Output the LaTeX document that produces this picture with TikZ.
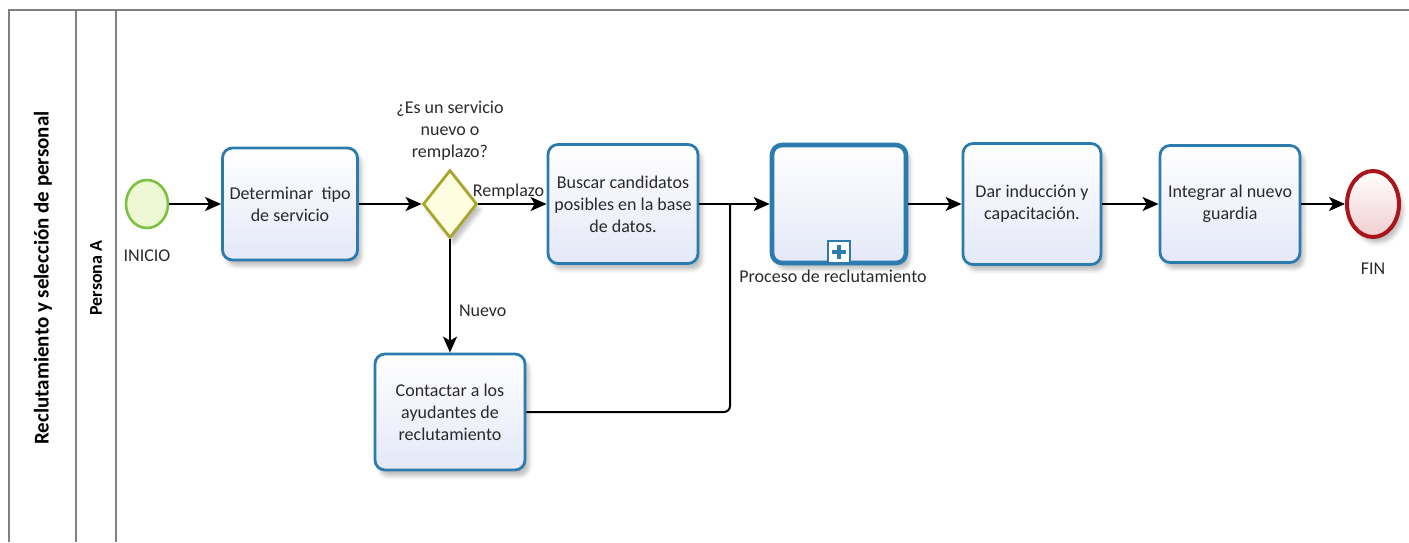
\documentclass[tikz,border=0pt]{standalone}
\usepackage{fontspec}
\setmainfont{Carlito}
\usepackage{tikz}
\usetikzlibrary{positioning,arrows.meta,shapes.geometric,shadows.blur}

\definecolor{taskline}{HTML}{2B7BAE}
\definecolor{taskfill}{HTML}{E4E8F8}
\definecolor{gwline}{HTML}{A9A62E}
\definecolor{gwfill}{HTML}{FFFDE0}
\definecolor{startline}{HTML}{7CC242}
\definecolor{startfill}{HTML}{EDF7D3}
\definecolor{endline}{HTML}{A8161C}
\definecolor{endfill}{HTML}{F2CDD0}
\definecolor{poolline}{HTML}{808080}
\definecolor{txt}{HTML}{2A2A2A}

\begin{document}
\begin{tikzpicture}[x=0.5pt, y=-0.5pt, font=\fontsize{9}{11}\selectfont, text=txt,
		task/.style={draw=taskline, line width=1.4pt, rounded corners=5pt, top color=white, bottom color=taskfill, minimum width=70pt, minimum height=59pt, align=center, inner sep=2pt, blur shadow={shadow xshift=2pt, shadow yshift=-3pt, shadow opacity=25}},
		gateway/.style={diamond, draw=gwline, fill=gwfill, line width=1.4pt, minimum width=27pt, minimum height=34pt, inner sep=0pt, blur shadow={shadow xshift=2pt, shadow yshift=-3pt, shadow opacity=25}},
		startev/.style={ellipse, draw=startline, fill=startfill, line width=1.3pt, minimum width=21pt, minimum height=24pt, inner sep=0pt},
		endev/.style={ellipse, draw=endline, top color=white, bottom color=endfill, line width=2pt, minimum width=26pt, minimum height=33pt, inner sep=0pt, blur shadow={shadow xshift=2pt, shadow yshift=-3pt, shadow opacity=25}},
		pool/.style={draw=poolline, line width=0.8pt},
		flow/.style={-{Stealth[length=8pt, width=7pt, inset=2pt]}, line width=1pt},
		lbl/.style={inner sep=1pt}]

	\useasboundingbox (0,0) rectangle (1409,542);

	\draw[pool] (9,542) -- (9,10) -- (1409,10);
	\draw[pool] (76,10) -- (76,542);
	\draw[pool] (116,10) -- (116,542);
	\node[rotate=90, font=\fontsize{10.5}{12}\selectfont\bfseries, text=black] (pooltitle) at (43,278) {Reclutamiento y selección de personal};
	\node[rotate=90, font=\fontsize{9}{11}\selectfont\bfseries, text=black] (lanetitle) at (96,278) {Persona A};

	\node[startev] (inicio) at (147,204) {};
	\node[task, minimum width=67.5pt, minimum height=56pt] (determinar) at (290,204) {Determinar\ \ tipo\\de servicio};
	\node[gateway] (gw) at (450,204) {};
	\node[task, minimum width=75pt, minimum height=59.5pt] (buscar) at (623,204) {Buscar candidatos\\posibles en la base\\de datos.};
	\node[task, line width=2.3pt, minimum width=67pt, minimum height=59pt] (proceso) at (839,204) {};
	\node[task, minimum width=69pt, minimum height=60.5pt] (induccion) at (1032,204) {Dar inducción y\\capacitación.};
	\node[task, minimum width=70pt, minimum height=58.5pt] (integrar) at (1230,204) {Integrar al nuevo\\guardia};
	\node[endev] (fin) at (1373,204) {};
	\node[task, minimum width=75pt, minimum height=58pt] (contactar) at (450,412) {Contactar a los\\ayudantes de\\reclutamiento};
	\coordinate (merge) at (730,204);

	\node[draw=taskline, line width=1.1pt, fill=white, minimum size=11pt, inner sep=0pt, anchor=south] (marker) at ([yshift=0.6pt]proceso.south) {};
	\draw[taskline, line width=2.2pt] ([yshift=-3.5pt]marker.center) -- ([yshift=3.5pt]marker.center);
	\draw[taskline, line width=2.2pt] ([xshift=-3.5pt]marker.center) -- ([xshift=3.5pt]marker.center);

	\node[lbl, below=9pt of inicio] (inicio-lbl) {INICIO};
	\node[lbl, below=11pt of fin] (fin-lbl) {FIN};
	\node[lbl, above=3pt of gw, align=center] (gw-lbl) {¿Es un servicio\\nuevo o\\remplazo?};
	\node[lbl, below=1pt of proceso, xshift=-3pt] (proceso-lbl) {Proceso de reclutamiento};

	\draw[flow] (inicio) -- (determinar);
	\draw[flow] (determinar) -- (gw);
	\draw[flow] (gw) -- node[lbl, above=1pt, xshift=-2pt] {Remplazo} (buscar);
	\draw[flow] (gw) -- node[lbl, right=3pt, pos=0.63] {Nuevo} (contactar);
	\draw[flow] (buscar) -- (proceso);
	\draw[line width=1pt, rounded corners=3pt] (contactar) -| (merge);
	\draw[flow] (proceso) -- (induccion);
	\draw[flow] (induccion) -- (integrar);
	\draw[flow] (integrar) -- (fin);

\end{tikzpicture}
\end{document}
